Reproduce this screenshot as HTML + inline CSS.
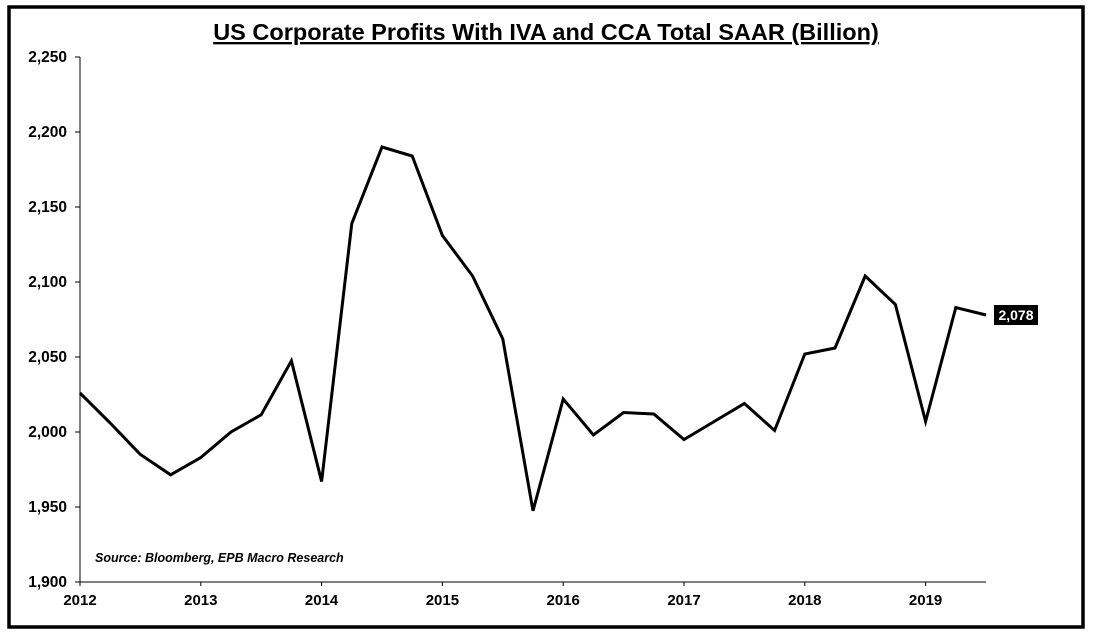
<!DOCTYPE html>
<html><head><meta charset="utf-8"><style>
html,body{margin:0;padding:0;background:#fff;}
svg{display:block;font-family:"Liberation Sans",sans-serif;font-weight:bold;}
</style></head><body>
<svg id="chart" width="1098" height="635">
<rect x="9" y="7" width="1074" height="620" fill="#fff" stroke="#000" stroke-width="3.5"/>
<text x="546" y="40" text-anchor="middle" font-size="23.5" text-decoration="underline">US Corporate Profits With IVA and CCA Total SAAR (Billion)</text>
<g id="axes"></g>
<g id="series"></g>
<text x="95" y="562" font-size="12.5" font-style="italic">Source: Bloomberg, EPB Macro Research</text>
</svg>
<script>
const values=[2026,2006,1985,1971.5,1983,2000,2011.5,2047.5,1967,2139,2190,2184,2131,2104,2062,1947.5,2022,1998,2013,2012,1995,2007,2019,2001,2052,2056,2104,2085,2007,2083,2078];
const startYear=2012;
const yTicks=[1900,1950,2000,2050,2100,2150,2200,2250];
const xTickYears=[2012,2013,2014,2015,2016,2017,2018,2019];
const lastLabel="2,078";
const NS="http://www.w3.org/2000/svg";
const x0=80,x1=986,yTop=57,yBot=582;
const xs=t=>x0+(t-startYear)*(x1-x0)/7.5;
const ys=v=>yBot-(v-1900)*(yBot-yTop)/350;
function mk(tag,attrs,parent){const e=document.createElementNS(NS,tag);for(const k in attrs)e.setAttribute(k,attrs[k]);parent.appendChild(e);return e;}
const ax=document.getElementById('axes');
let l=mk('line',{x1:x0,y1:yTop,x2:x0,y2:yBot,stroke:'#000','stroke-width':1},ax);


l=mk('line',{x1:x0,y1:yBot,x2:x1,y2:yBot,stroke:'#000','stroke-width':1},ax);


yTicks.forEach(v=>{
  mk('line',{x1:x0-5,y1:ys(v),x2:x0,y2:ys(v),stroke:'#000'},ax);
  const t=mk('text',{x:x0-13,y:ys(v)+5,'text-anchor':'end','font-size':15.5},ax);
  t.textContent=v.toLocaleString('en-US');
  
  
});
xTickYears.forEach(y=>{
  mk('line',{x1:xs(y),y1:yBot,x2:xs(y),y2:yBot+4,stroke:'#000'},ax);
  const t=mk('text',{x:xs(y),y:yBot+23,'text-anchor':'middle','font-size':15},ax);
  t.textContent=y;
  
  
});
const sg=document.getElementById('series');
const pts=values.map((v,i)=>xs(startYear+i/4).toFixed(1)+','+ys(v).toFixed(1)).join(' ');
const pl=mk('polyline',{points:pts,fill:'none',stroke:'#000','stroke-width':3,'stroke-linejoin':'miter'},sg);


const lv=values[values.length-1];
const ly=ys(lv);
const r=mk('rect',{x:994,y:ly-10,width:44,height:20,fill:'#000'},sg);


const lt=mk('text',{x:1016,y:ly+5,'text-anchor':'middle','font-size':14,fill:'#fff'},sg);
lt.textContent=lastLabel;


</script>
</body></html>
